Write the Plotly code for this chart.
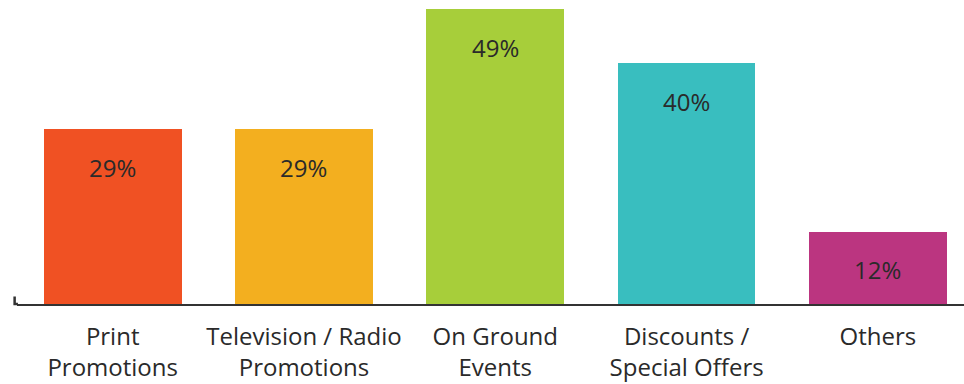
import plotly.graph_objects as go

categories = ["Print<br>Promotions", "Television / Radio<br>Promotions", "On Ground<br>Events",
              "Discounts /<br>Special Offers", "Others"]
values = [29, 29, 49, 40, 12]
labels = ["29%", "29%", "49%", "40%", "12%"]
colors = ["#F05123", "#F3AF1F", "#A7CE3A", "#39BEBF", "#BB3580"]

FONT = "Open Sans"
x = list(range(len(categories)))

fig = go.Figure()
fig.add_trace(go.Bar(x=x, y=values, marker=dict(color=colors, line=dict(width=0)),
                     width=0.72, hoverinfo="skip"))

for xi, v, t in zip(x, values, labels):
    fig.add_annotation(x=xi, y=v, text=t, showarrow=False, yshift=-38, yanchor="middle",
                       font=dict(family=FONT, size=24, color="#2a2a2a"))

# left end hook of axis
fig.add_shape(type="path", xref="paper", yref="paper",
              path="M -0.0025,0.025 L -0.0025,0 L 0.001,0",
              line=dict(color="#333333", width=2.5))

fig.update_layout(
    width=964, height=384,
    margin=dict(l=17, r=0, t=0, b=80),
    plot_bgcolor="white", paper_bgcolor="white",
    showlegend=False,
    bargap=0,
    xaxis=dict(range=[-0.5, 4.45], tickmode="array", tickvals=x, ticktext=categories,
               showline=True, linecolor="#333333", linewidth=2, ticks="", showgrid=False,
               zeroline=False, ticklabelstandoff=10,
               tickfont=dict(family=FONT, size=24, color="#2a2a2a")),
    yaxis=dict(range=[0, 50.5], visible=False, showgrid=False, zeroline=False),
)

fig.write_html("out.html")
